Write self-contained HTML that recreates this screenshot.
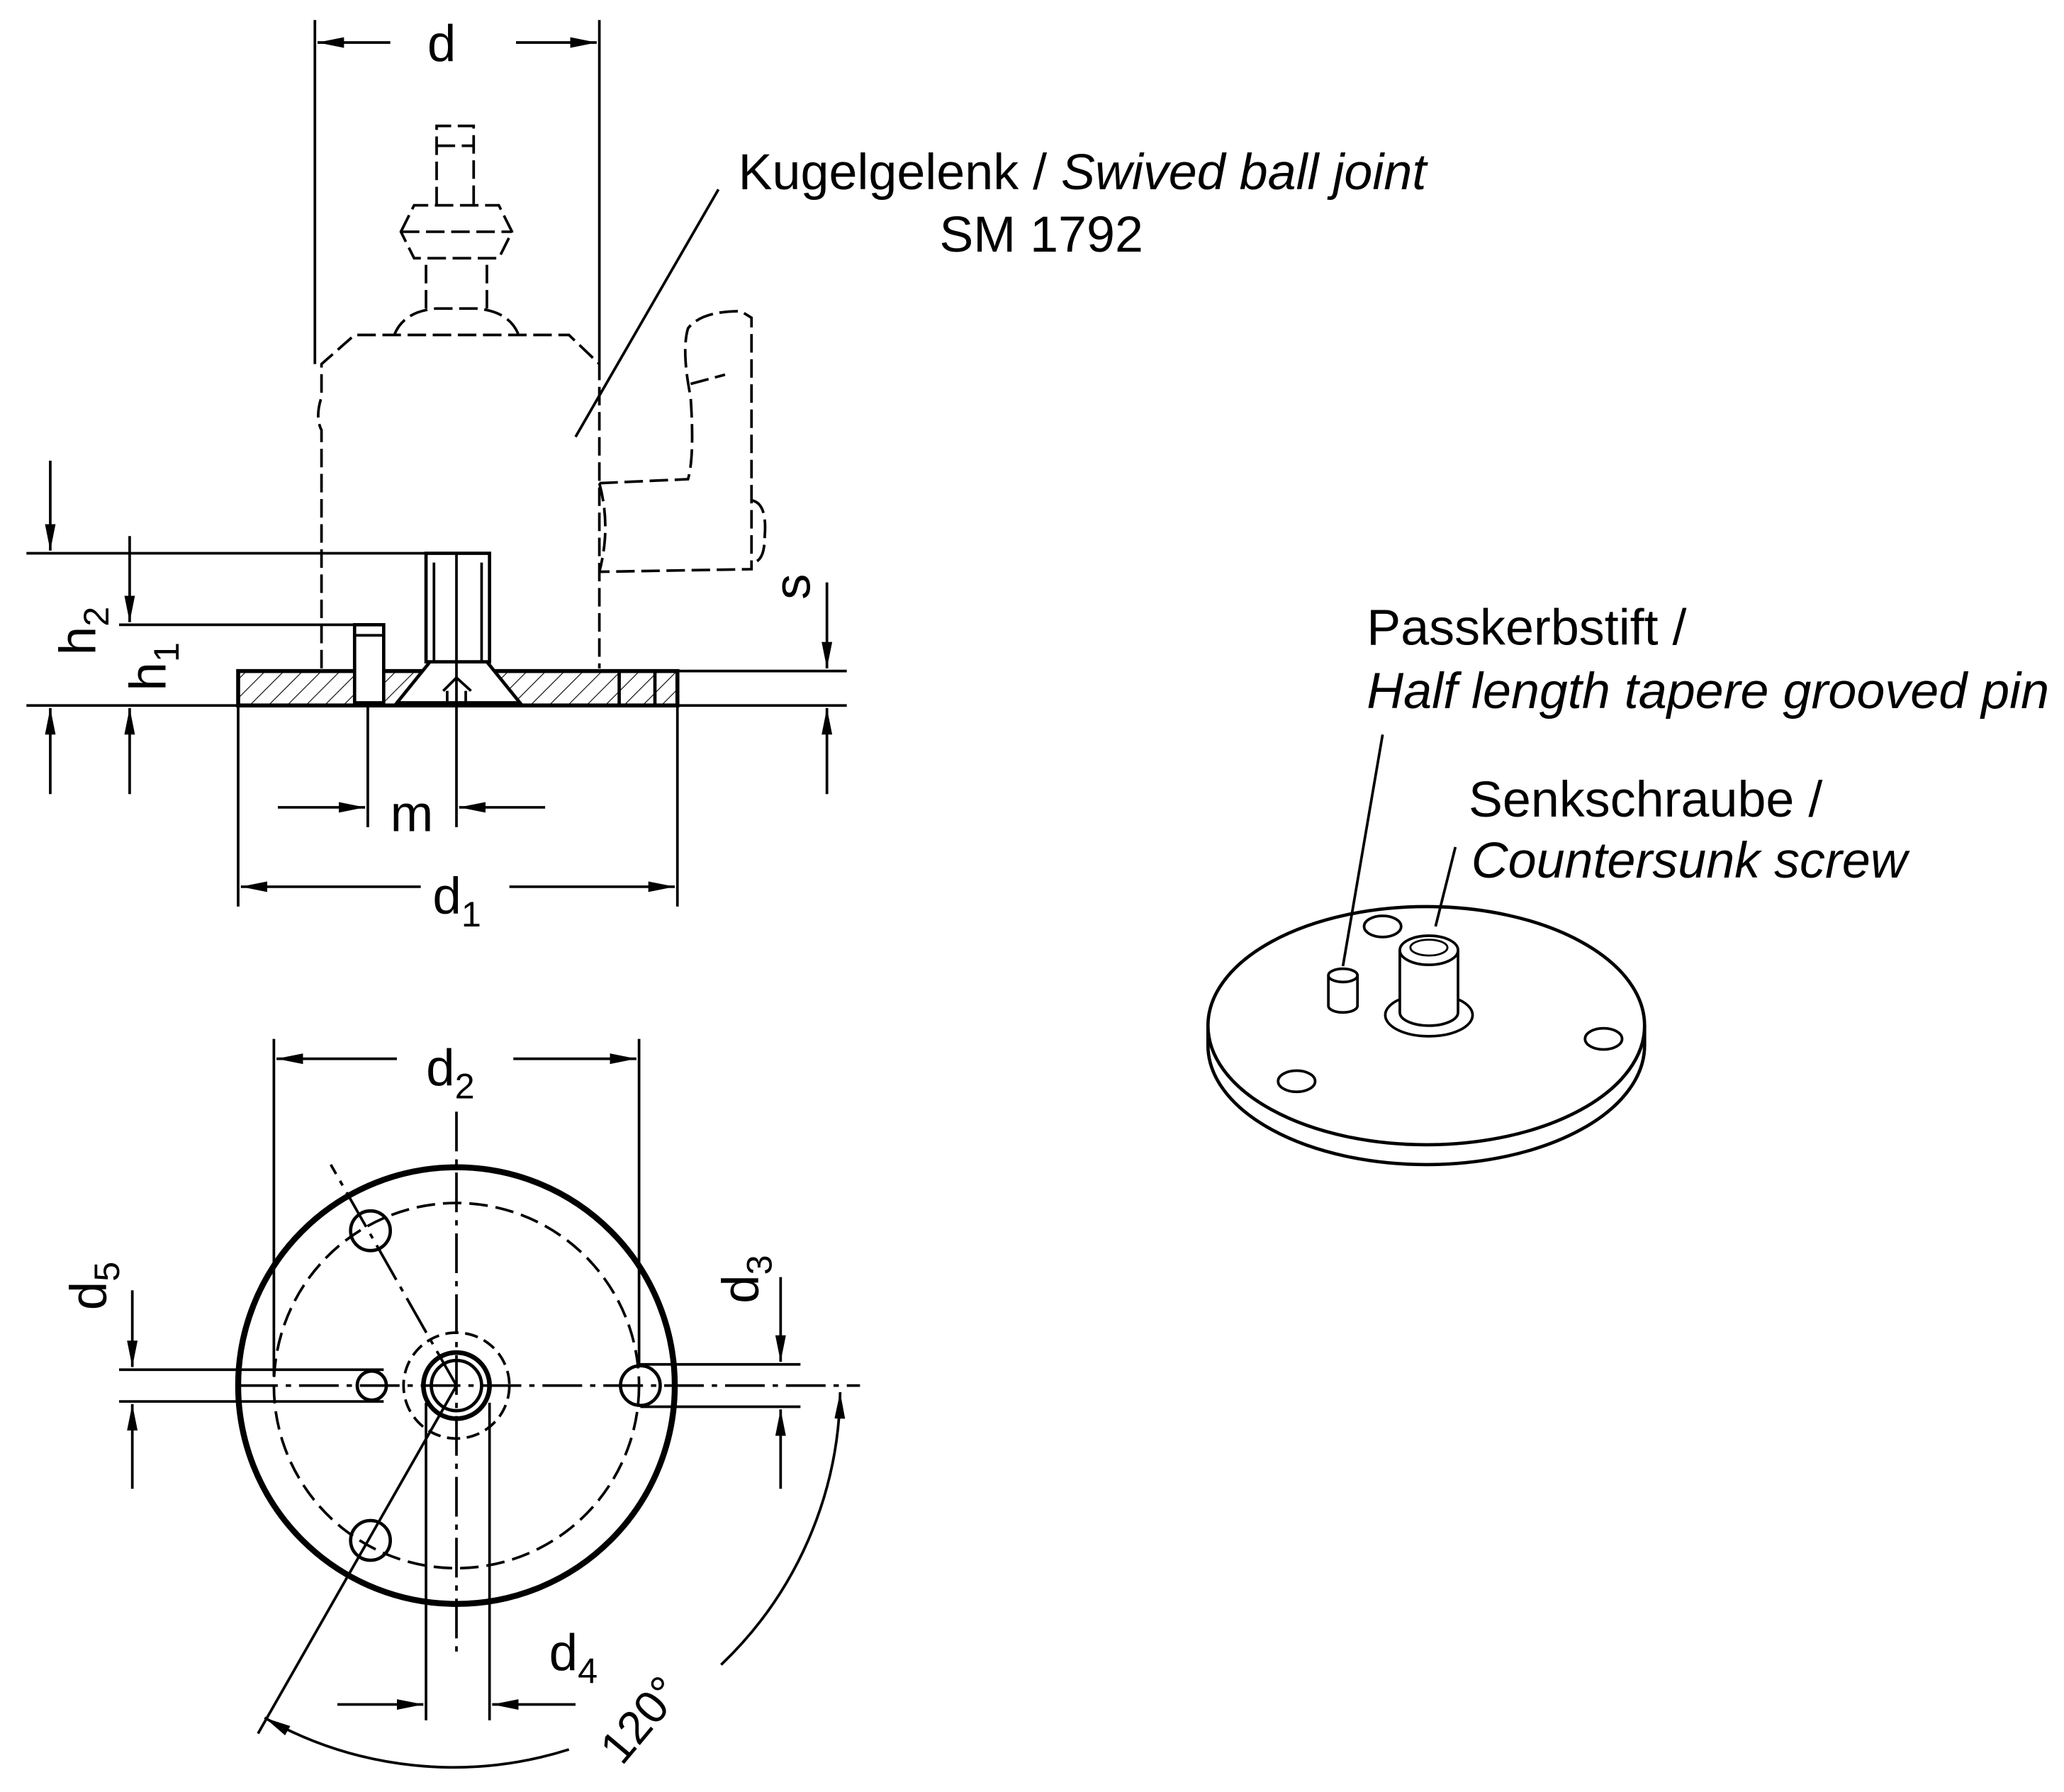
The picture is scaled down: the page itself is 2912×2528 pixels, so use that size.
<!DOCTYPE html>
<html><head><meta charset="utf-8"><style>
html,body{margin:0;padding:0;background:#fff}
svg{display:block}
text{font-family:"Liberation Sans",sans-serif;fill:#000}
</style></head><body>
<svg width="2912" height="2528" viewBox="0 0 1560 1354" xmlns="http://www.w3.org/2000/svg">
<defs>
<marker id="a" viewBox="0 0 20 8" refX="20" refY="4" markerWidth="20" markerHeight="8" orient="auto" markerUnits="userSpaceOnUse"><path d="M0,0 L20,4 L0,8z" fill="#000"/></marker>
<pattern id="h" width="10" height="10" patternUnits="userSpaceOnUse" patternTransform="rotate(45)"><line x1="0" y1="0" x2="0" y2="10" stroke="#000" stroke-width="1.2"/></pattern>
</defs>
<g fill="none" stroke="#000" stroke-width="2">
<line x1="238" y1="15" x2="238" y2="275"/><line x1="453" y1="15" x2="453" y2="275"/>
<line x1="295" y1="32" x2="240" y2="32" marker-end="url(#a)"/><line x1="390" y1="32" x2="451" y2="32" marker-end="url(#a)"/>
<g stroke-dasharray="14,5" stroke-width="2">
<path d="M243,505 L243,325 Q238,315 243,300 L243,275 L268,253 L430,253 L453,275 L453,505"/>
<path d="M298,253 Q305,235 330,233 L360,233 Q385,235 392,253"/>
<path d="M322,233 L322,195 M368,233 L368,195"/>
<path d="M303,175 L313,155 L377,155 L387,175 L377,195 L313,195 Z M303,175 L387,175"/>
<path d="M330,155 L330,95 L358,95 L358,155 M330,110 L358,110"/>
<path d="M453,365 L520,362 Q525,345 522,300 Q515,265 520,248 Q530,235 560,235 L568,240 L568,430 L453,432"/>
<path d="M453,365 Q462,398 453,432"/>
<path d="M522,290 L548,283"/>
<path d="M568,378 Q580,380 578,405 Q578,425 568,425"/>
</g>
<line x1="543" y1="143" x2="435" y2="330"/>
<rect x="180" y="507" width="332" height="26" fill="url(#h)"/>
<rect x="180" y="507" width="332" height="26" stroke-width="3"/>
<rect x="268" y="472" width="22" height="59" fill="#fff" stroke-width="2.5"/>
<line x1="268" y1="480" x2="290" y2="480"/>
<path d="M300,531 L325,500 L368,500 L393,531 Z" fill="#fff" stroke-width="2.5"/>
<rect x="322" y="418" width="48" height="82" fill="#fff" stroke-width="2.5"/>
<line x1="328" y1="425" x2="328" y2="500"/><line x1="364" y1="425" x2="364" y2="500"/>
<path d="M335,522 L345,512 L356,522 M338,522 L338,531 M352,522 L352,531"/>
<line x1="468" y1="507" x2="468" y2="533" stroke-width="2.5"/><line x1="495" y1="507" x2="495" y2="533" stroke-width="2.5"/>
<line x1="20" y1="418" x2="322" y2="418"/>
<line x1="38" y1="348" x2="38" y2="416" marker-end="url(#a)"/>
<line x1="90" y1="472" x2="268" y2="472"/>
<line x1="98" y1="405" x2="98" y2="470" marker-end="url(#a)"/>
<line x1="20" y1="533" x2="640" y2="533"/>
<line x1="38" y1="600" x2="38" y2="535" marker-end="url(#a)"/>
<line x1="98" y1="600" x2="98" y2="535" marker-end="url(#a)"/>
<line x1="512" y1="507" x2="640" y2="507"/>
<line x1="625" y1="440" x2="625" y2="505" marker-end="url(#a)"/>
<line x1="625" y1="600" x2="625" y2="535" marker-end="url(#a)"/>
<line x1="278" y1="533" x2="278" y2="625"/><line x1="345" y1="418" x2="345" y2="625"/>
<line x1="210" y1="610" x2="276" y2="610" marker-end="url(#a)"/><line x1="412" y1="610" x2="347" y2="610" marker-end="url(#a)"/>
<line x1="180" y1="533" x2="180" y2="685"/><line x1="512" y1="533" x2="512" y2="685"/>
<line x1="318" y1="670" x2="182" y2="670" marker-end="url(#a)"/><line x1="385" y1="670" x2="510" y2="670" marker-end="url(#a)"/>

<circle cx="345" cy="1047" r="165" stroke-width="4.5"/>
<circle cx="345" cy="1047" r="138" stroke-dasharray="14,6"/>
<circle cx="280" cy="930" r="15" stroke-width="2.5"/>
<circle cx="484" cy="1047" r="15" stroke-width="2.5"/>
<circle cx="280" cy="1164" r="15" stroke-width="2.5"/>
<circle cx="281" cy="1047" r="11" stroke-width="2.5"/>
<circle cx="345" cy="1047" r="25" stroke-width="3.5"/>
<circle cx="345" cy="1047" r="19" stroke-width="2.5"/>
<circle cx="345" cy="1047" r="40" stroke-dasharray="10,5"/>
<line x1="180" y1="1047" x2="650" y2="1047" stroke-dasharray="30,6,4,6"/>
<line x1="345" y1="840" x2="345" y2="1250" stroke-dasharray="30,6,4,6"/>
<line x1="345" y1="1047" x2="250" y2="880" stroke-dasharray="30,6,4,6"/>
<line x1="345" y1="1047" x2="195" y2="1310"/>
<line x1="207" y1="785" x2="207" y2="1040"/><line x1="483" y1="785" x2="483" y2="1032"/>
<line x1="300" y1="800" x2="209" y2="800" marker-end="url(#a)"/><line x1="388" y1="800" x2="481" y2="800" marker-end="url(#a)"/>
<line x1="90" y1="1035" x2="290" y2="1035"/><line x1="90" y1="1059" x2="290" y2="1059"/>
<line x1="100" y1="975" x2="100" y2="1033" marker-end="url(#a)"/><line x1="100" y1="1125" x2="100" y2="1061" marker-end="url(#a)"/>
<line x1="484" y1="1031" x2="605" y2="1031"/><line x1="484" y1="1063" x2="605" y2="1063"/>
<line x1="590" y1="965" x2="590" y2="1029" marker-end="url(#a)"/><line x1="590" y1="1125" x2="590" y2="1065" marker-end="url(#a)"/>
<line x1="322" y1="1060" x2="322" y2="1300"/><line x1="370" y1="1060" x2="370" y2="1300"/>
<line x1="255" y1="1288" x2="320" y2="1288" marker-end="url(#a)"/><line x1="435" y1="1288" x2="372" y2="1288" marker-end="url(#a)"/>
<path d="M430,1322 A290,290 0 0 1 200,1298" marker-end="url(#a)"/>
<path d="M545,1258 A290,290 0 0 0 635,1052" marker-end="url(#a)"/>

<path d="M913,775 L913,790 A165,90 0 0 0 1243,790 L1243,775" fill="#fff" stroke-width="2.5"/>
<ellipse cx="1078" cy="775" rx="165" ry="90" fill="#fff" stroke-width="2.5"/>
<ellipse cx="1045" cy="700" rx="14" ry="8" stroke-width="2"/>
<ellipse cx="1212" cy="785" rx="14" ry="8" stroke-width="2"/>
<ellipse cx="980" cy="817" rx="14" ry="8" stroke-width="2"/>
<ellipse cx="1080" cy="767" rx="33" ry="16" stroke-width="2"/>
<path d="M1058,718 L1058,765 A22,10 0 0 0 1102,765 L1102,718" fill="#fff" stroke-width="2"/>
<ellipse cx="1080" cy="718" rx="22" ry="11" fill="#fff" stroke-width="2"/>
<ellipse cx="1080" cy="716" rx="14" ry="6" stroke-width="1.5"/>
<path d="M1004,737 L1004,760 A11,5 0 0 0 1026,760 L1026,737" fill="#fff" stroke-width="2"/>
<ellipse cx="1015" cy="737" rx="11" ry="5" fill="#fff" stroke-width="2"/>
<line x1="1045" y1="555" x2="1015" y2="730"/>
<line x1="1100" y1="640" x2="1085" y2="700"/>
</g>
<g font-size="39">
<text x="323" y="46">d</text>
<text x="295" y="628">m</text>
<text x="327" y="690">d<tspan font-size="27" dy="10">1</tspan></text>
<text x="322" y="820">d<tspan font-size="27" dy="10">2</tspan></text>
<text x="415" y="1262">d<tspan font-size="27" dy="10">4</tspan></text>
<text transform="translate(72,495) rotate(-90)">h<tspan font-size="27" dy="10">2</tspan></text>
<text transform="translate(125,522) rotate(-90)">h<tspan font-size="27" dy="10">1</tspan></text>
<text transform="translate(612,453) rotate(-90)">s</text>
<text transform="translate(80,990) rotate(-90)">d<tspan font-size="27" dy="10">5</tspan></text>
<text transform="translate(573,985) rotate(-90)">d<tspan font-size="27" dy="10">3</tspan></text>
<text font-size="35" transform="translate(470,1335) rotate(-50)">120°</text>
</g>
<g font-size="38.5">
<text x="558" y="143">Kugelgelenk  / <tspan font-style="italic">Swived ball joint</tspan></text>
<text x="710" y="190">SM 1792</text>
<text x="1033" y="487">Passkerbstift /</text>
<text x="1033" y="535" font-style="italic">Half length tapere grooved pin</text>
<text x="1110" y="617">Senkschraube /</text>
<text x="1112" y="663" font-style="italic">Countersunk screw</text>
</g>
</svg>
</body></html>
